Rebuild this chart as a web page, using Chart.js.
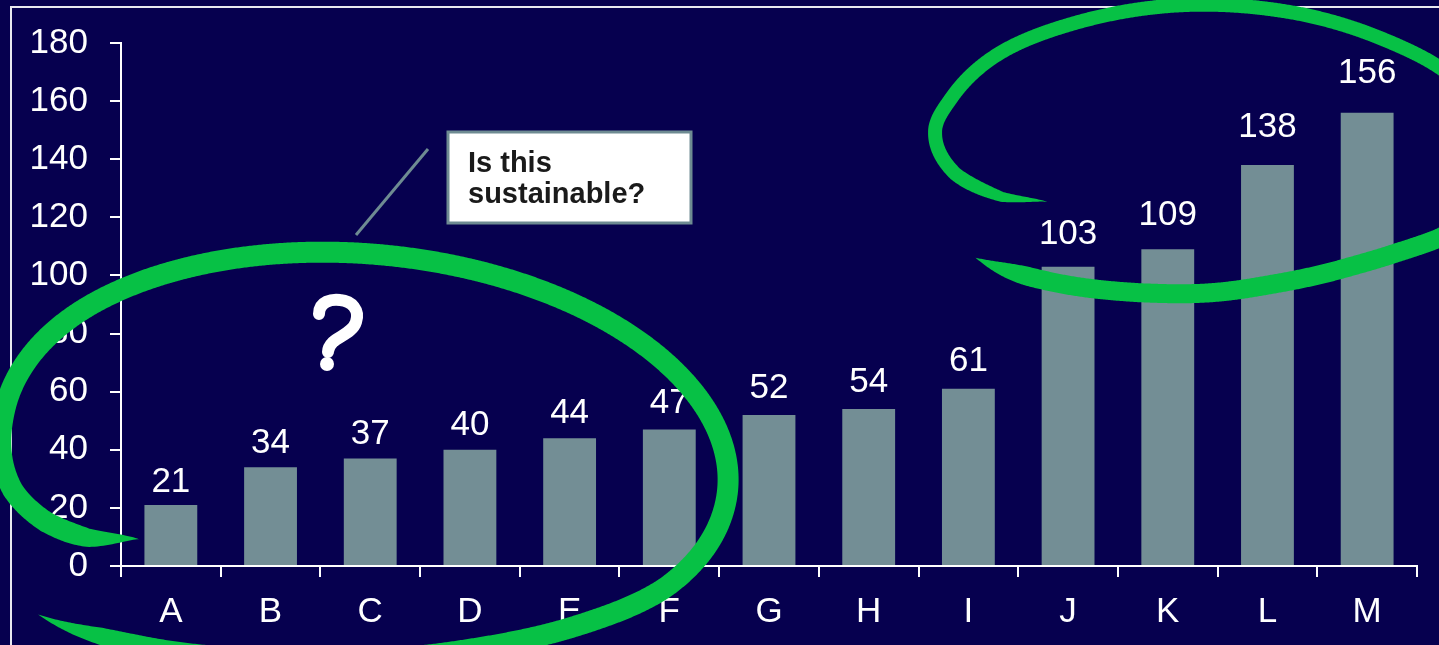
<!DOCTYPE html>
<html><head><meta charset="utf-8">
<script src="https://cdn.jsdelivr.net/npm/chart.js@4"></script>
<style>html,body{margin:0;padding:0;background:#06004F;overflow:hidden}#wrap{position:relative;width:1439px;height:645px}</style>
</head><body><div id="wrap"><canvas id="c" width="1439" height="645"></canvas></div>
<script>
const categories = ['A','B','C','D','E','F','G','H','I','J','K','L','M'];
const values = [21,34,37,40,44,47,52,54,61,103,109,138,156];
const yTicks = [0,20,40,60,80,100,120,140,160,180];
const calloutLines = ['Is this','sustainable?'];

const FONT = '"Liberation Sans", Arial, sans-serif';
const BG = '#06004F';
const BAR = '#738E95';
const GREEN = '#07C145';
const GREY = '#6E8B92';

function cat1(a,b,c,d,t){const t2=t*t,t3=t2*t;return 0.5*((2*b)+(-a+c)*t+(2*a-5*b+4*c-d)*t2+(-a+3*b-3*c+d)*t3);}
function spiralPts(cx,cy,rx,ry,rot,ctrl){
  const pts=[],n=ctrl.length;
  const toXY=(ph,r)=>{const ex=rx*r*Math.cos(ph),ey=ry*r*Math.sin(ph);return [cx+ex*Math.cos(rot)-ey*Math.sin(rot),cy+ex*Math.sin(rot)+ey*Math.cos(rot)];};
  for(let i=0;i<n-1;i++){
    const p0=ctrl[Math.max(i-1,0)],p1=ctrl[i],p2=ctrl[i+1],p3=ctrl[Math.min(i+2,n-1)];
    const steps=Math.max(6,Math.ceil(Math.abs(p2[0]-p1[0])*4));
    for(let s=0;s<steps;s++){
      const t=s/steps;
      pts.push(toXY((p1[0]+(p2[0]-p1[0])*t)*Math.PI/180,cat1(p0[1],p1[1],p2[1],p3[1],t)));
    }
  }
  pts.push(toXY(ctrl[n-1][0]*Math.PI/180,ctrl[n-1][1]));
  return pts;
}
function brush(ctx,s,maxW,taperA,taperB){
  const L=[0];
  for(let i=1;i<s.length;i++){L.push(L[i-1]+Math.hypot(s[i][0]-s[i-1][0],s[i][1]-s[i-1][1]));}
  const total=L[L.length-1];
  const left=[],right=[];
  for(let i=0;i<s.length;i++){
    const a=s[Math.max(i-1,0)],b=s[Math.min(i+1,s.length-1)];
    let tx=b[0]-a[0],ty=b[1]-a[1];const n=Math.hypot(tx,ty)||1;tx/=n;ty/=n;
    let f=Math.min(1,taperA?L[i]/taperA:1,taperB?(total-L[i])/taperB:1);
    f=Math.sin(Math.max(0,f)*Math.PI/2);
    const w=maxW/2*f;
    left.push([s[i][0]-ty*w,s[i][1]+tx*w]);
    right.push([s[i][0]+ty*w,s[i][1]-tx*w]);
  }
  ctx.beginPath();
  ctx.moveTo(left[0][0],left[0][1]);
  for(const p of left) ctx.lineTo(p[0],p[1]);
  for(let i=right.length-1;i>=0;i--) ctx.lineTo(right[i][0],right[i][1]);
  ctx.closePath();ctx.fill();
}

// decorative hand-drawn loops: [angle in degrees, radius factor]
const leftLoop=[[140,0.77],[145,0.89],[152,0.96],[162,0.995],[185,0.99],[220,1.0],[270,1.0],[320,1.0],[360,1.0],[390,0.99],[410,0.955],[430,0.95],[450,1.0],[470,1.1],[484,1.19],[493,1.24]];
const rightTopLoop=[[-10,1.0],[-35,0.987],[-51.5,0.972],[-76,0.985],[-96,0.998],[-120,1.0],[-138,1.01],[-159,1.0],[-173,1.0],[-190,0.935],[-203,0.82],[-211,0.69]];
const rightBottomLoop=[[139,1.124],[122,1.07],[105,1.012],[91,0.979],[76,0.942],[59,0.937],[47,0.962],[37,1.007],[20,1.06]];

const bgPlugin={id:'bg',beforeDraw(chart){const c=chart.ctx;c.save();c.fillStyle=BG;c.fillRect(0,0,chart.width,chart.height);c.strokeStyle='#E8E8F0';c.lineWidth=2;c.strokeRect(11,7,1500,700);c.restore();}};
const labelPlugin={id:'vals',afterDatasetsDraw(chart){
  const meta=chart.getDatasetMeta(0);const c=chart.ctx;
  c.save();c.font='35px '+FONT;c.fillStyle='#FFFFFF';c.textAlign='center';c.textBaseline='alphabetic';
  meta.data.forEach((bar,i)=>{const h=bar.base-bar.y;const gap=10+0.044*h;c.fillText(String(values[i]),bar.x,bar.y-gap);});
  c.restore();
}};
const overlayPlugin={id:'overlay',afterDraw(chart){
  const c=chart.ctx;c.save();
  c.fillStyle=GREEN;
  brush(c,spiralPts(363,458,366,204,0.09,leftLoop),21,75,110);
  brush(c,spiralPts(1213,150,280,146,0,rightTopLoop),14,0,90);
  brush(c,spiralPts(1213,150,280,146,0,rightBottomLoop),19,60,0);
  // leader line
  c.strokeStyle=GREY;c.lineWidth=3;c.beginPath();c.moveTo(428,149);c.lineTo(356,235);c.stroke();
  // callout
  c.fillStyle='#FFFFFF';c.fillRect(448,132,243,91);
  c.strokeStyle=GREY;c.lineWidth=3;c.strokeRect(448,132,243,91);
  c.fillStyle='#1A1A1A';c.font='bold 29px '+FONT;c.textAlign='left';c.textBaseline='alphabetic';
  c.fillText(calloutLines[0],468,172);c.fillText(calloutLines[1],468,203);
  // hand-drawn question mark
  c.strokeStyle='#FFFFFF';c.lineWidth=12;c.lineCap='round';c.lineJoin='round';
  c.beginPath();c.moveTo(319,314);
  c.bezierCurveTo(319,301,332,299,340,300);
  c.bezierCurveTo(352,301,360,310,356,322);
  c.bezierCurveTo(353,332,340,336,333,342);
  c.bezierCurveTo(329,346,328,349,328,352);
  c.stroke();
  c.fillStyle='#FFFFFF';c.beginPath();c.arc(327,364,7,0,Math.PI*2);c.fill();
  c.restore();
}};

new Chart(document.getElementById('c'),{
  type:'bar',
  data:{labels:categories,datasets:[{data:values,backgroundColor:BAR,borderWidth:0,barPercentage:0.53,categoryPercentage:1}]},
  options:{
    responsive:false,animation:false,
    layout:{padding:{top:42,right:22,left:0,bottom:0}},
    plugins:{legend:{display:false},tooltip:{enabled:false}},
    scales:{
      x:{grid:{display:true,drawOnChartArea:false,drawTicks:true,tickLength:11,color:'#FFFFFF',lineWidth:2,offset:true},
         border:{display:true,color:'#FFFFFF',width:2},
         ticks:{color:'#FFFFFF',font:{family:FONT,size:35},padding:14,maxRotation:0,autoSkip:false},
         afterFit:s=>{s.height=79;}},
      y:{min:0,max:180,
         afterBuildTicks:s=>{s.ticks=yTicks.map(v=>({value:v}));},
         grid:{display:true,drawOnChartArea:false,drawTicks:true,tickLength:11,color:'#FFFFFF',lineWidth:2},
         border:{display:true,color:'#FFFFFF',width:2},
         ticks:{color:'#FFFFFF',font:{family:FONT,size:35},padding:22},
         afterFit:s=>{s.width=121;}}
    }
  },
  plugins:[bgPlugin,labelPlugin,overlayPlugin]
});
</script></body></html>
